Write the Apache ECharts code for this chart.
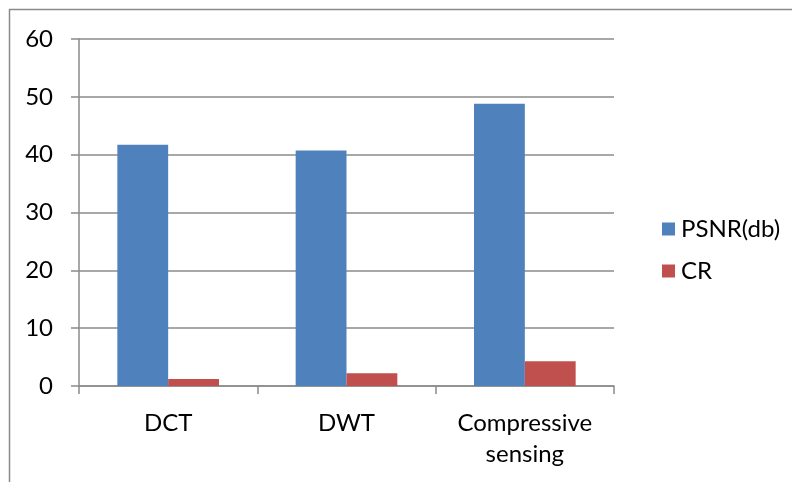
<!DOCTYPE html>
<html>
<head>
<meta charset="utf-8">
<script src="https://cdn.jsdelivr.net/npm/echarts@6/dist/echarts.min.js"></script>
<style>
  html, body { margin: 0; padding: 0; background: #fff; }
  #chart { width: 792px; height: 482px; }
</style>
</head>
<body>
<div id="chart"></div>
<script>
// Method comparison: PSNR (dB) and compression ratio
const categories = ['DCT', 'DWT', 'Compressive\nsensing'];
const psnrValues = [41.7, 40.7, 48.8];
const crValues = [1.2, 2.2, 4.3];
const seriesNames = ['PSNR(db)', 'CR'];

const FONT = 'Lato, "Open Sans", sans-serif';
const FONT_SIZE = 24;
const GRID_COLOR = '#8b8b8b';

const chart = echarts.init(document.getElementById('chart'), null, { renderer: 'canvas' });

chart.setOption({
  animation: false,
  backgroundColor: '#ffffff',
  textStyle: { fontFamily: FONT, color: '#000' },
  graphic: [{
    type: 'rect',
    shape: { x: 9.5, y: 9.5, width: 900, height: 700 },
    style: { fill: 'none', stroke: '#8a8a8a', lineWidth: 1.5 },
    silent: true
  }],
  grid: { left: 79, right: 178, top: 39, bottom: 96, containLabel: false },
  legend: {
    orient: 'vertical',
    left: 657,
    top: 212,
    itemWidth: 13,
    itemHeight: 13,
    itemGap: 18,
    icon: 'rect',
    textStyle: { fontFamily: FONT, fontSize: FONT_SIZE, color: '#000', padding: [0, 0, 0, 1] },
    data: seriesNames
  },
  xAxis: {
    type: 'category',
    data: categories,
    boundaryGap: true,
    axisLine: { lineStyle: { color: GRID_COLOR, width: 1.5 } },
    axisTick: { show: true, length: 8, lineStyle: { color: GRID_COLOR, width: 1.5 } },
    axisLabel: {
      margin: 22,
      fontFamily: FONT,
      fontSize: FONT_SIZE,
      color: '#000',
      lineHeight: 31,
      interval: 0
    }
  },
  yAxis: {
    type: 'value',
    min: 0,
    max: 60,
    interval: 10,
    axisLine: { show: true, lineStyle: { color: GRID_COLOR, width: 1.5 } },
    axisTick: { show: true, length: 8, lineStyle: { color: GRID_COLOR, width: 1.5 } },
    splitLine: { show: true, lineStyle: { color: GRID_COLOR, width: 1.5 } },
    axisLabel: { margin: 26, fontFamily: FONT, fontSize: FONT_SIZE, color: '#000' }
  },
  series: [
    {
      name: seriesNames[0],
      type: 'bar',
      data: psnrValues,
      barGap: '0%',
      barCategoryGap: '43%',
      itemStyle: { color: '#4f81bd' }
    },
    {
      name: seriesNames[1],
      type: 'bar',
      data: crValues,
      barGap: '0%',
      barCategoryGap: '43%',
      itemStyle: { color: '#c0504d' }
    }
  ]
});
</script>
</body>
</html>
